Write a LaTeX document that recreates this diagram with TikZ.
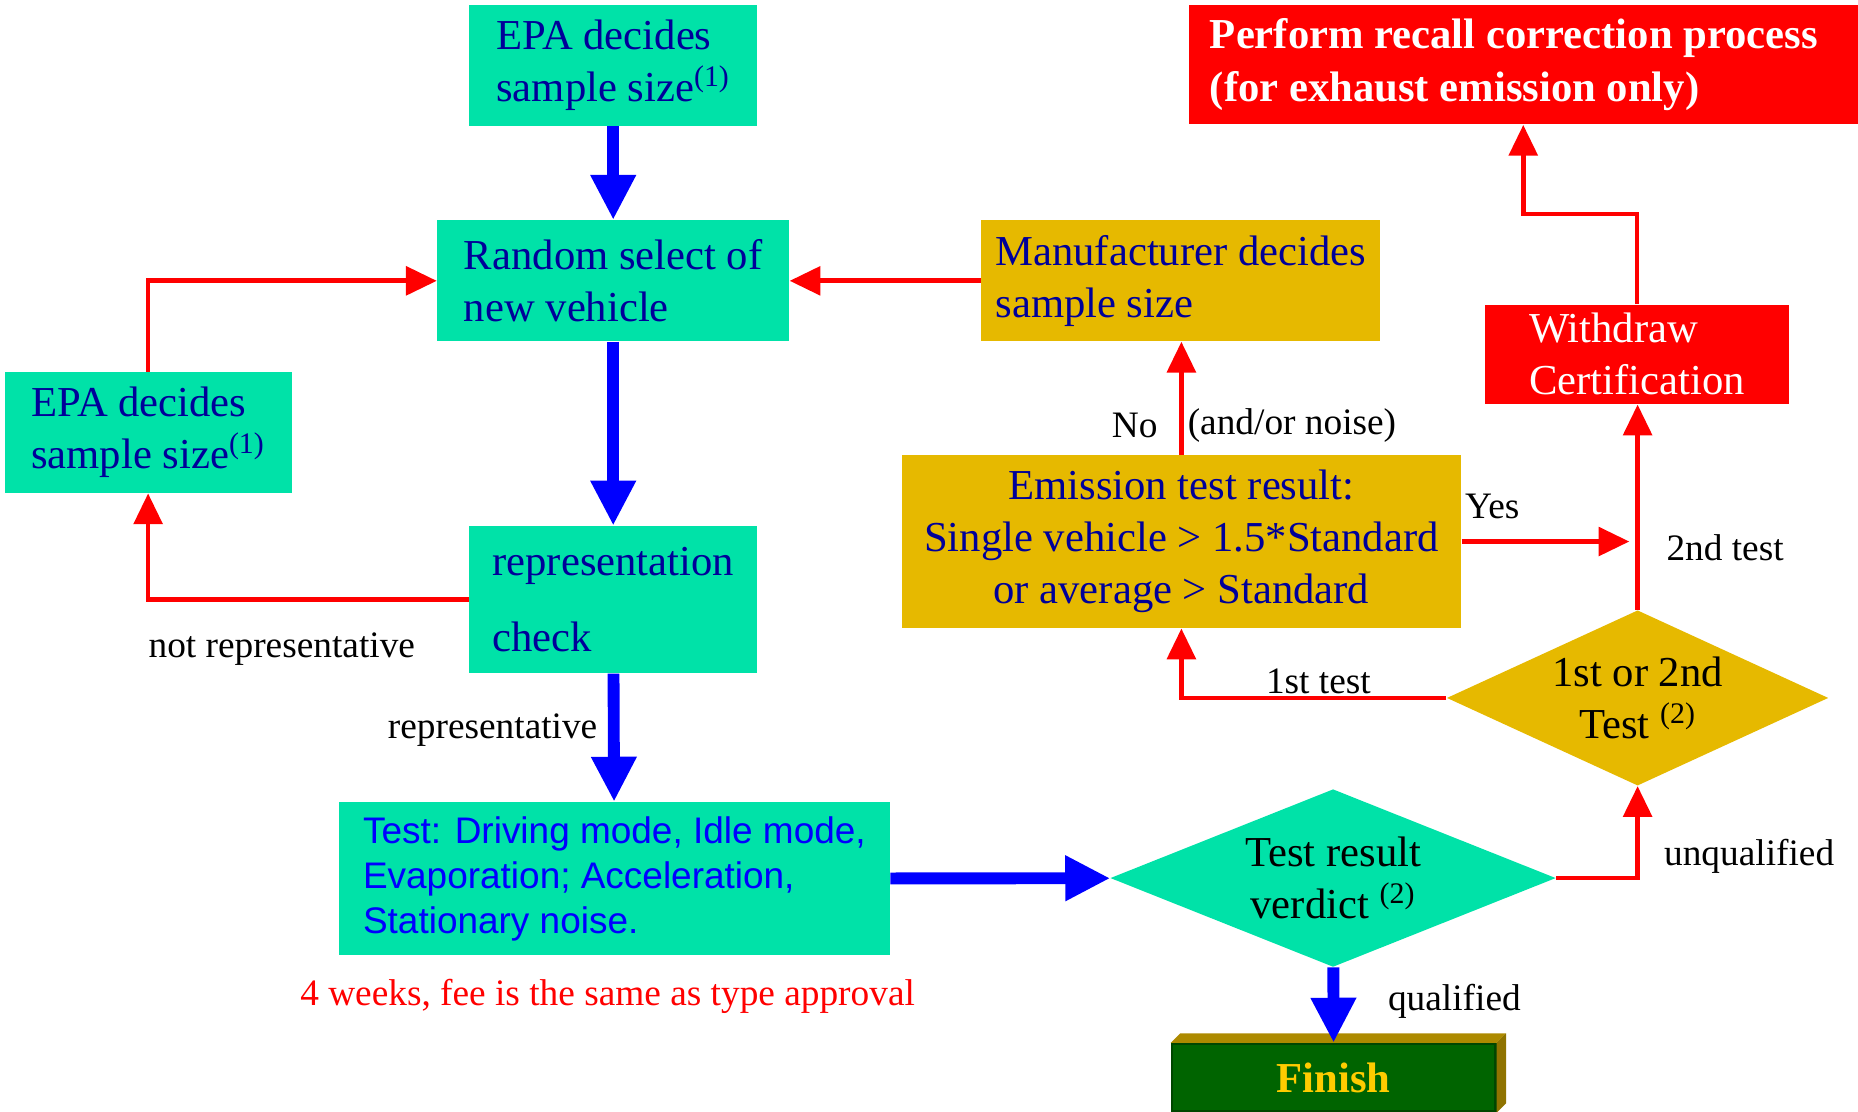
\documentclass[tikz,border=0pt]{standalone}
\usepackage{fontspec}
\setmainfont{Liberation Serif}
\setsansfont{Liberation Sans}
\usetikzlibrary{positioning}
\usetikzlibrary{shapes.geometric}
\usetikzlibrary{arrows.meta}

\definecolor{boxteal}{RGB}{0,226,168}
\definecolor{boxgold}{RGB}{230,185,0}
\definecolor{textnavy}{RGB}{0,0,153}
\definecolor{finishgreen}{RGB}{0,100,0}
\definecolor{finishedge}{RGB}{0,70,0}
\definecolor{finishtop}{RGB}{173,138,0}
\definecolor{finishside}{RGB}{143,115,0}
\definecolor{finishtext}{RGB}{255,204,0}

\newcommand{\boxfont}{\fontsize{18}{22}\selectfont}
\newcommand{\lblfont}{\fontsize{15.75}{19}\selectfont}

\begin{document}
\begin{tikzpicture}[x=0.5pt,y=-0.5pt,
    bluearrow/.style={draw=blue,line width=5pt,-{Triangle[length=19pt,width=18pt]}},
    redarrow/.style={draw=red,line width=2pt,-{Triangle[length=13pt,width=12pt]}}]
        \useasboundingbox (0,0) rectangle (1568,938);

        \begin{scope}[every node/.style={rectangle,inner sep=0pt,align=left,font=\boxfont,text=textnavy}]
            \node[fill=boxteal,minimum width=121.5pt,minimum height=51pt] (epatop) at (517.5,55) {EPA decides\\sample size\textsuperscript{(1)}};
            \node[fill=boxteal,minimum width=148.5pt,minimum height=51pt] (random) at (517.5,237) {Random select of\\new vehicle};
            \node[fill=boxgold,minimum width=168.5pt,minimum height=51pt] (manuf) at (996.5,237) {Manufacturer decides\\sample size};
            \node[fill=boxteal,minimum width=121pt,minimum height=51pt] (epaleft) at (125,365) {EPA decides\\sample size\textsuperscript{(1)}};
            \node[fill=boxteal,minimum width=121.5pt,minimum height=62pt] (repcheck) at (517.5,506) {representation\\[10pt]check};
            \node[fill=boxteal,minimum width=232.5pt,minimum height=64.5pt,text=blue,
                font=\sffamily\fontsize{15.6}{19}\selectfont] (test) at (518.5,741.5) {Test: Driving mode, Idle mode,\\Evaporation; Acceleration,\\Stationary noise.};
            \node[fill=boxgold,minimum width=236pt,minimum height=73pt,align=center] (emission) at (997,457) {Emission test result:\\Single vehicle > 1.5*Standard\\or average > Standard};
            \node[fill=red,text=white,minimum width=128.5pt,minimum height=42pt] (withdraw) at (1381.5,299) {Withdraw\\Certification};
            \node[fill=red,text=white,minimum width=282.5pt,minimum height=50.5pt,
                font=\boxfont\bfseries] (recall) at (1285.5,54.5) {Perform recall correction process\hspace*{8pt}\\(for exhaust emission only)};
            \node[diamond,aspect=2.5,fill=boxteal,text=black,align=center,minimum width=188pt,minimum height=75pt] (verdict) at (1125,741) {Test result\\verdict \textsuperscript{(2)}};
            \node[diamond,aspect=2.18,fill=boxgold,text=black,align=center,minimum width=161pt,minimum height=74pt] (which) at (1382,589) {1st or 2nd\\Test \textsuperscript{(2)}};
            \node[fill=finishgreen,draw=finishedge,line width=1pt,text=finishtext,font=\boxfont\bfseries,
                minimum width=136.5pt,minimum height=28.5pt] (finish) at (1125.5,909.5) {Finish};
        \end{scope}

        % raised edges of the finish block
        \fill[finishtop] (finish.north west) -- ([shift={(8,-8)}]finish.north west) -- ([shift={(8,-8)}]finish.north east) -- (finish.north east) -- cycle;
        \fill[finishside] (finish.north east) -- ([shift={(8,-8)}]finish.north east) -- ([shift={(8,-8)}]finish.south east) -- (finish.south east) -- cycle;

        \begin{scope}[every node/.style={inner sep=0pt,anchor=west,font=\lblfont}]
            \node (lblrep) at (327,616) {representative};
            \node (lblnotrep) at (125,548) {not representative};
            \node (lblno) at (938,359) {No};
            \node (lblnoise) at (1002,359) {(and/or noise)};
            \node (lblyes) at (1236,427) {Yes};
            \node (lblsecond) at (1406,462) {2nd test};
            \node (lblfirst) at (1068,575) {1st test};
            \node (lblunq) at (1404,723) {unqualified};
            \node (lblqual) at (1171,845) {qualified};
            \node[text=red] (lblweeks) at (253,841) {4 weeks, fee is the same as type approval};
        \end{scope}

        \coordinate (yestip) at (1375,457);

        \draw[bluearrow] (epatop) -- (random);
        \draw[bluearrow] (random) -- (repcheck);
        \draw[bluearrow] (repcheck) -- (test);
        \draw[bluearrow] (test) -- (verdict);
        \draw[bluearrow] (verdict) -- (finish);

        \draw[redarrow] (epaleft.north) |- (random.west);
        \draw[redarrow] (repcheck.west) -| (epaleft.south);
        \draw[redarrow] (manuf.west) -- (random.east);
        \draw[redarrow] (emission.north) -- (emission.north |- manuf.south);
        \draw[redarrow] (emission.east) -- (yestip);
        \draw[redarrow] (which.west) -| (emission.south);
        \draw[redarrow] (verdict.east) -| (which.south);
        \draw[redarrow] (which.north) -- (which.north |- withdraw.south);
        \draw[redarrow] (withdraw.north) -- ++(0,-76) -| (recall.south);
    \end{tikzpicture}
\end{document}
